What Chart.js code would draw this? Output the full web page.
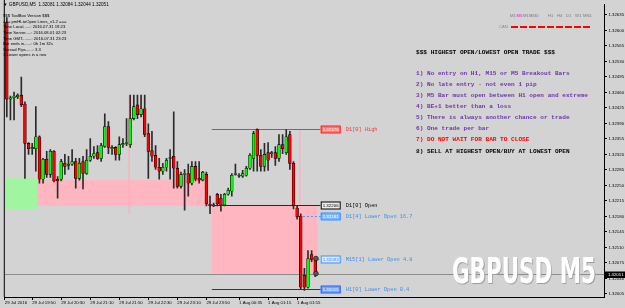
<!DOCTYPE html>
<html>
<head>
<meta charset="utf-8">
<script src="https://cdn.jsdelivr.net/npm/chart.js@4.4.0/dist/chart.umd.min.js"></script>
<style>
  html, body { margin: 0; padding: 0; background: #d3d3d3; }
  #wrap { position: relative; width: 625px; height: 308px; }
</style>
</head>
<body>
<div id="wrap"><canvas id="chart"></canvas></div>
<script>
// GBPUSD M5 bars, Fri 29 Jul 19:15 -> Mon 1 Aug 02:20 (server time)
const barTimes = [
  '19:15','19:20','19:25','19:30','19:35','19:40','19:45','19:50','19:55',
  '20:00','20:05','20:10','20:15','20:20','20:25','20:30','20:35','20:40','20:45','20:50','20:55',
  '21:00','21:05','21:10','21:15','21:20','21:25','21:30','21:35','21:40','21:45','21:50','21:55',
  '22:00','22:05','22:10','22:15','22:20','22:25','22:30','22:35','22:40','22:45','22:50','22:55',
  '23:00','23:05','23:10','23:15','23:20','23:25','23:30','23:35','23:40','23:45','23:50','23:55',
  '00:00','00:05','00:10','00:15','00:20','00:25','00:30','00:35','00:40','00:45','00:50','00:55',
  '01:00','01:05','01:10','01:15','01:20','01:25','01:30','01:35','01:40','01:45','01:50','01:55',
  '02:00','02:05','02:10','02:15','02:20'
];

const openPrices = [
  1.32618,1.32445,1.32448,1.32450,1.32454,1.32434,1.32345,1.32333,1.32333,
  1.32360,1.32264,1.32309,1.32275,1.32327,1.32264,1.32264,1.32300,1.32295,1.32298,1.32304,1.32266,
  1.32304,1.32277,1.32307,1.32316,1.32324,1.32311,1.32338,1.32383,1.32333,1.32336,1.32320,1.32342,
  1.32345,1.32342,1.32401,1.32432,1.32410,1.32423,1.32367,1.32329,1.32318,1.32291,1.32282,1.32291,
  1.32311,1.32316,1.32289,1.32248,1.32275,1.32277,1.32255,1.32293,1.32266,1.32262,1.32275,1.32208,
  1.32206,1.32230,1.32221,1.32206,1.32230,1.32237,1.32275,1.32273,1.32271,1.32273,1.32289,1.32311,
  1.32376,1.32318,1.32293,1.32324,1.32322,1.32324,1.32311,1.32342,1.32324,1.32365,1.32300,1.32199,
  1.32181,1.32047,1.32020,1.32094,1.32081
];
const highPrices = [
  1.32629,1.32452,1.32461,1.32457,1.32495,1.32439,1.32347,1.32345,1.32428,
  1.32362,1.32311,1.32327,1.32331,1.32329,1.32270,1.32309,1.32320,1.32316,1.32331,1.32311,1.32311,
  1.32316,1.32331,1.32356,1.32338,1.32340,1.32345,1.32412,1.32394,1.32340,1.32338,1.32360,1.32356,
  1.32401,1.32454,1.32454,1.32454,1.32454,1.32454,1.32389,1.32372,1.32340,1.32311,1.32300,1.32311,
  1.32331,1.32416,1.32304,1.32280,1.32286,1.32298,1.32304,1.32304,1.32304,1.32282,1.32280,1.32226,
  1.32210,1.32232,1.32230,1.32232,1.32244,1.32277,1.32298,1.32277,1.32284,1.32293,1.32322,1.32372,
  1.32378,1.32331,1.32345,1.32347,1.32327,1.32338,1.32365,1.32365,1.32376,1.32372,1.32304,1.32204,
  1.32186,1.32063,1.32103,1.32103,1.32084
];
const lowPrices = [
  1.32405,1.32398,1.32398,1.32446,1.32428,1.32266,1.32320,1.32320,1.32282,
  1.32255,1.32255,1.32268,1.32268,1.32258,1.32221,1.32260,1.32275,1.32286,1.32295,1.32244,1.32262,
  1.32242,1.32275,1.32304,1.32311,1.32309,1.32304,1.32336,1.32322,1.32320,1.32307,1.32307,1.32336,
  1.32340,1.32336,1.32398,1.32401,1.32405,1.32360,1.32266,1.32304,1.32286,1.32264,1.32275,1.32282,
  1.32264,1.32244,1.32244,1.32244,1.32194,1.32226,1.32251,1.32260,1.32255,1.32260,1.32204,1.32186,
  1.32202,1.32204,1.32192,1.32204,1.32228,1.32226,1.32273,1.32268,1.32268,1.32271,1.32286,1.32282,
  1.32282,1.32282,1.32282,1.32284,1.32313,1.32295,1.32304,1.32322,1.32320,1.32286,1.32197,1.32174,
  1.32015,1.32013,1.32018,1.32078,1.32044
];
const closePrices = [
  1.32445,1.32448,1.32452,1.32454,1.32432,1.32345,1.32333,1.32336,1.32360,
  1.32264,1.32309,1.32275,1.32327,1.32260,1.32260,1.32304,1.32293,1.32298,1.32304,1.32266,1.32300,
  1.32277,1.32307,1.32316,1.32322,1.32311,1.32340,1.32383,1.32336,1.32336,1.32320,1.32342,1.32345,
  1.32347,1.32401,1.32428,1.32410,1.32423,1.32365,1.32327,1.32316,1.32291,1.32282,1.32291,1.32307,
  1.32313,1.32289,1.32248,1.32275,1.32277,1.32255,1.32293,1.32264,1.32262,1.32280,1.32208,1.32204,
  1.32204,1.32208,1.32206,1.32230,1.32239,1.32273,1.32277,1.32271,1.32277,1.32289,1.32318,1.32367,
  1.32318,1.32293,1.32320,1.32307,1.32324,1.32311,1.32342,1.32333,1.32360,1.32300,1.32204,1.32179,
  1.32020,1.32020,1.32085,1.32083,1.32051
];

// axis labels
const priceTicks = [1.32005,1.32040,1.32075,1.32110,1.32145,1.32180,1.32215,1.32250,1.32285,1.32320,
  1.32355,1.32390,1.32425,1.32460,1.32495,1.32530,1.32565,1.32600,1.32635];
const timeTickLabels = ['29 Jul 2016','29 Jul 19:50','29 Jul 20:30','29 Jul 21:10','29 Jul 21:50','29 Jul 22:30',
  '29 Jul 23:10','29 Jul 23:50','1 Aug 00:35','1 Aug 01:15','1 Aug 01:55'];
const timeTickBars = [null,'19:50','20:30','21:10','21:50','22:30','23:10','23:50','00:35','01:15','01:55'];

// indicator objects
const zoneFrom = ['19:15','20:00','00:00'];
const zoneTo = ['19:55','23:50','02:20'];
const zoneTop = [1.32266,1.32262,1.32206];
const zoneBottom = [1.32197,1.32204,1.32047];

const markerTimes = ['22:05','02:00'];
const markerTop = [1.32454,1.32378];
const markerBottom = [1.32186,1.32206];

const levelNames = ['D1[0] High','D1[0] Open','D1[4] Lower Open 16.7','M15[1] Lower Open 4.8','H1[0] Lower Open 0.4'];
const levelPrices = [1.32378,1.32206,1.32181,1.32083,1.32015];
const levelFrom = ['00:00','00:00','02:00','02:20','00:00'];

const entryPrices = [1.32085,1.32051];

const infoLines = ['$$$ ToolBox Version $$$','=== pmHLtoOpen Lines_v1.2 ===','Time Local......: 2016.07.31 19:23',
  'Time Server.....: 2016.08.01 02:23','Time GMT........: 2016.07.31 23:23','Bar ends in......: 0h 1m 32s',
  'Spread Pips......: 3.3','1 Lower opens in a row'];
const ruleLines = ['1) No entry on H1, M15 or M5 Breakout Bars','2) No late entry - not even 1 pip',
  '3) M5 Bar must open between H1 open and extreme','4) BE+1 better than a loss',
  '5) There is always another chance or trade','6) One trade per bar','7) DO NOT WAIT FOR BAR TO CLOSE',
  '8) SELL AT HIGHEST OPEN/BUY AT LOWEST OPEN'];
const periods = ['M1','M5','M15','M30','H1','H4','D1','W1','MN1'];

const lastIdx = barTimes.length - 1;
const barIndex = t => barTimes.indexOf(t);

const levelStyle = [
  { line: '#ff3030', dash: [], box: '#ff7a7a', border: '#ff2020', boxText: '#ffffff', text: '#ff3030' },
  { line: '#2a2a2a', dash: [], box: '#ececec', border: '#000000', boxText: '#000000', text: '#000000' },
  { line: '#4a9cff', dash: [2, 2], box: '#7ab8ff', border: '#3d8fff', boxText: '#ffffff', text: '#3d8cf0' },
  { line: '#4a9cff', dash: [2, 2], box: '#dceaff', border: '#3d8fff', boxText: '#3d8fff', text: '#3d8cf0' },
  { line: '#2626c8', dash: [], box: '#6ea6ff', border: '#2a5cff', boxText: '#ffffff', text: '#3d8cf0' }
];

const overlay = {
  id: 'overlay',
  beforeDraw(chart) {
    const ctx = chart.ctx;
    ctx.save();
    ctx.fillStyle = '#d3d3d3';
    ctx.fillRect(0, 0, chart.width, chart.height);
    ctx.restore();
  },
  beforeDatasetsDraw(chart) {
    const { ctx, chartArea: a, scales: { x, y } } = chart;
    ctx.save();
    // zones
    const zoneColors = ['#a0f5a0', '#ffb6c1', '#ffb6c1'];
    zoneFrom.forEach((t, k) => {
      const x0 = Math.max(a.left, x.getPixelForValue(barIndex(t) - 0.5));
      const x1 = x.getPixelForValue(barIndex(zoneTo[k]) + 0.5);
      const y0 = y.getPixelForValue(zoneTop[k]);
      const y1 = y.getPixelForValue(zoneBottom[k]);
      ctx.fillStyle = zoneColors[k];
      ctx.fillRect(x0, y0, x1 - x0, y1 - y0);
    });
    // vertical markers
    ctx.strokeStyle = '#ffb0bb';
    ctx.lineWidth = 1.5;
    markerTimes.forEach((t, k) => {
      const px = x.getPixelForValue(barIndex(t)) - 1;
      ctx.beginPath();
      ctx.moveTo(px, y.getPixelForValue(markerTop[k]));
      ctx.lineTo(px, y.getPixelForValue(markerBottom[k]));
      ctx.stroke();
    });
    // current price line
    const cy = Math.round(y.getPixelForValue(closePrices[lastIdx])) + 0.5;
    ctx.strokeStyle = '#8c8c8c';
    ctx.lineWidth = 1;
    ctx.beginPath();
    ctx.moveTo(a.left, cy);
    ctx.lineTo(a.right, cy);
    ctx.stroke();
    // levels
    const xEnd = x.getPixelForValue(lastIdx + 1.5);
    levelPrices.forEach((p, k) => {
      const st = levelStyle[k];
      const ly = Math.round(y.getPixelForValue(p)) + 0.5;
      const x0 = x.getPixelForValue(barIndex(levelFrom[k]) - 0.5);
      ctx.strokeStyle = st.line;
      ctx.setLineDash(st.dash);
      ctx.beginPath();
      ctx.moveTo(x0, ly);
      ctx.lineTo(xEnd, ly);
      ctx.stroke();
    });
    ctx.setLineDash([]);
    ctx.restore();
  },
  afterDraw(chart) {
    const { ctx, chartArea: a, scales: { x, y } } = chart;
    ctx.save();
    ctx.textBaseline = 'middle';

    // chart frame left side
    ctx.strokeStyle = '#000';
    ctx.lineWidth = 1;
    ctx.beginPath();
    ctx.moveTo(a.left - 0.5, 0);
    ctx.lineTo(a.left - 0.5, a.bottom);
    ctx.stroke();

    // level labels
    const xEnd = x.getPixelForValue(lastIdx + 1.5);
    levelPrices.forEach((p, k) => {
      const st = levelStyle[k];
      const ly = Math.round(y.getPixelForValue(p)) + 0.5;
      ctx.fillStyle = st.box;
      ctx.fillRect(xEnd, ly - 3.5, 20, 7);
      ctx.strokeStyle = st.border;
      ctx.strokeRect(xEnd + 0.5, ly - 3.5, 19, 7);
      ctx.fillStyle = st.boxText;
      ctx.font = '4.4px "Liberation Sans"';
      ctx.fillText(p.toFixed(5), xEnd + 2, ly + 0.3);
      ctx.fillStyle = st.text;
      ctx.font = '5.3px "Liberation Mono"';
      ctx.fillText(levelNames[k], xEnd + 25, ly + 0.3);
    });

    // title and info block
    ctx.fillStyle = '#000';
    ctx.font = '4.6px "Liberation Sans"';
    ctx.fillText('\u25BC GBPUSD,M5  1.32081 1.32084 1.32044 1.32051', 3, 5);
    ctx.font = '4.2px "Liberation Sans"';
    infoLines.forEach((s, k) => ctx.fillText(s, 3, 16 + k * 5.6));

    // period bar
    ctx.font = '4.2px "Liberation Sans"';
    const periodX = [510, 516.5, 523, 530.5, 548, 557, 566, 575, 583];
    periods.forEach((s, k) => {
      ctx.fillStyle = s === 'M5' ? '#ff00ff' : '#7a7a7a';
      ctx.fillText(s, periodX[k], 16);
    });
    ctx.fillStyle = '#8a8a8a';
    ctx.fillText('CAN', 499, 27);
    ctx.strokeStyle = '#ff0000';
    ctx.lineWidth = 2;
    ctx.setLineDash([7, 2]);
    ctx.beginPath();
    ctx.moveTo(511, 27);
    ctx.lineTo(592, 27);
    ctx.stroke();
    ctx.setLineDash([]);

    // trading rules
    ctx.font = 'bold 6.1px "Liberation Mono"';
    ctx.fillStyle = '#000';
    ctx.fillText('$$$ HIGHEST OPEN/LOWEST OPEN TRADE $$$', 416, 52);
    ruleLines.forEach((s, k) => {
      ctx.fillStyle = k === 6 ? '#ff0000' : (k === 7 ? '#000000' : '#6a35b0');
      ctx.fillText(s, 416, 73.3 + k * 11.1);
    });

    // watermark
    ctx.font = 'bold 35px "DejaVu Sans Condensed", "DejaVu Sans"';
    ctx.textBaseline = 'alphabetic';
    const wm = 'GBPUSD M5';
    const sx = 144 / ctx.measureText(wm).width;
    ctx.save();
    ctx.translate(452, 283);
    ctx.scale(sx, 1);
    ctx.fillStyle = '#9e9e9e';
    ctx.fillText(wm, 1.2, 1);
    ctx.fillStyle = '#ffffff';
    ctx.fillText(wm, 0, 0);
    ctx.restore();

    // current price tag
    ctx.textBaseline = 'middle';
    const cy = Math.round(y.getPixelForValue(closePrices[lastIdx])) + 0.5;
    ctx.fillStyle = '#000';
    ctx.fillRect(a.right + 1, cy - 3, 20, 6.5);
    ctx.fillStyle = '#fff';
    ctx.font = '4.3px "Liberation Sans"';
    ctx.fillText(closePrices[lastIdx].toFixed(5), a.right + 4, cy + 0.3);
    ctx.restore();
  }
};

const bodies = barTimes.map((t, i) => ({ x: i, y: [openPrices[i], closePrices[i]] }));
const wicks = barTimes.map((t, i) => ({ x: i, y: [lowPrices[i], highPrices[i]] }));
const bodyColors = barTimes.map((t, i) => closePrices[i] > openPrices[i] ? '#00ff00' : '#ff0000');

const ctx = document.getElementById('chart').getContext('2d');
new Chart(ctx, {
  type: 'bar',
  data: {
    datasets: [
      {
        type: 'scatter',
        data: entryPrices.map(p => ({ x: lastIdx + 0.2, y: p })),
        pointRadius: 2.3,
        pointBackgroundColor: '#5a5a5a',
        pointBorderColor: '#1e1e1e',
        pointBorderWidth: 0.8,
        order: 0
      },
      {
        data: bodies,
        backgroundColor: bodyColors,
        borderColor: '#000000',
        borderWidth: 0.6,
        borderSkipped: false,
        barThickness: 2.8,
        grouped: false,
        order: 1
      },
      {
        data: wicks,
        backgroundColor: '#2b2b2b',
        borderWidth: 0,
        barThickness: 1,
        grouped: false,
        order: 2
      }
    ]
  },
  options: {
    responsive: true,
    maintainAspectRatio: false,
    animation: false,
    events: [],
    layout: { padding: { left: 3, top: 2, right: 0, bottom: 0 } },
    plugins: { legend: { display: false }, tooltip: { enabled: false } },
    scales: {
      x: {
        type: 'linear',
        offset: false,
        min: -0.55,
        max: 164.56,
        grid: { drawOnChartArea: false, offset: false, tickLength: 3, color: '#000' },
        border: { display: true, color: '#000' },
        afterBuildTicks: scale => {
          scale.ticks = timeTickBars.map(t => ({ value: t === null ? scale.min : barIndex(t) }));
        },
        afterFit: scale => { scale.height = 11; },
        ticks: {
          autoSkip: false,
          maxRotation: 0,
          align: 'start',
          padding: 0.5,
          color: '#000',
          font: { size: 4.3, family: 'Liberation Sans' },
          callback: (v, i) => timeTickLabels[i]
        }
      },
      y: {
        type: 'linear',
        position: 'right',
        min: 1.31998,
        max: 1.32658,
        grid: { drawOnChartArea: false, tickLength: 3, color: '#000' },
        border: { display: true, color: '#000' },
        afterBuildTicks: scale => { scale.ticks = priceTicks.map(v => ({ value: v })); },
        afterFit: scale => { scale.width = 21; },
        ticks: {
          padding: 1.5,
          color: '#000',
          font: { size: 4.3, family: 'Liberation Sans' },
          callback: v => v.toFixed(5)
        }
      }
    }
  },
  plugins: [overlay]
});
</script>
</body>
</html>
